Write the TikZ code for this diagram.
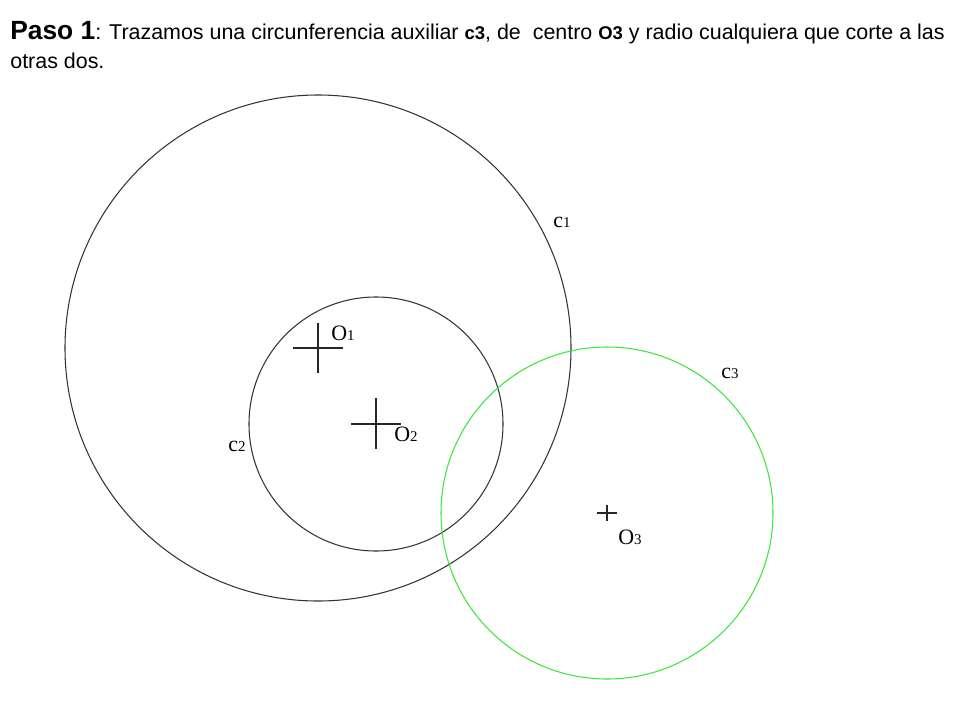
\documentclass[tikz,border=0pt]{standalone}
\usepackage{fontspec}
\setmainfont{Liberation Serif}
\newfontfamily\arial{Liberation Sans}
\usepackage{tikz}
\definecolor{auxgreen}{RGB}{60,230,60}
\newcommand\idx[1]{{\fontsize{8.5}{8.5}\selectfont #1}}
\newcommand\tidx[1]{{\fontsize{10.5}{10.5}\selectfont\bfseries #1}}

\begin{document}
\begin{tikzpicture}[x=0.02cm,y=-0.02cm,
  circ/.style={draw=black!80,line width=0.6pt},
  aux/.style={draw=auxgreen,line width=0.6pt},
  cross/.style={draw=black!85,line width=0.6pt},
  lbl/.style={inner sep=0pt,font=\fontsize{12.5}{12.5}\selectfont},
  txt/.style={anchor=base west,inner sep=0pt,font=\arial\fontsize{12.2}{14}\selectfont}]
\useasboundingbox (0,0) rectangle (960,720);

% centres
\coordinate (O1) at (318,348);
\coordinate (O2) at (376,424);
\coordinate (O3) at (607,513);

% circunferencias
\draw[circ] (O1) circle (253);
\draw[circ] (O2) circle (127);
\draw[aux] (O3) circle (166);

% cruces
\draw[cross] (O1) ++(-25,0) -- ++(50,0);
\draw[cross] (O1) ++(0,-25) -- ++(0,50);
\draw[cross] (O2) ++(-25,0) -- ++(50,0);
\draw[cross] (O2) ++(0,-26) -- ++(0,51);
\draw[cross] (O3) ++(-10,0) -- ++(20,0);
\draw[cross] (O3) ++(0,-8) -- ++(0,16);

\node[lbl] (o1) at (343,333) {O\idx{1}};
\node[lbl] (o2) at (406,434) {O\idx{2}};
\node[lbl] (o3) at (630,537) {O\idx{3}};
\node[lbl] (c1) at (562,222) {c\idx{1}};
\node[lbl] (c2) at (237,446) {c\idx{2}};
\node[lbl] (c3) at (730,373) {c\idx{3}};

% texto
\node[txt] (paso) at (10,39) {{\fontsize{15}{15}\selectfont\bfseries Paso 1}: Trazamos una circunferencia auxiliar \tidx{c3}, de\ \ centro \tidx{O3} y radio cualquiera que corte a las};
\node[txt] (dos) at (10,68) {otras dos.};
\end{tikzpicture}
\end{document}
